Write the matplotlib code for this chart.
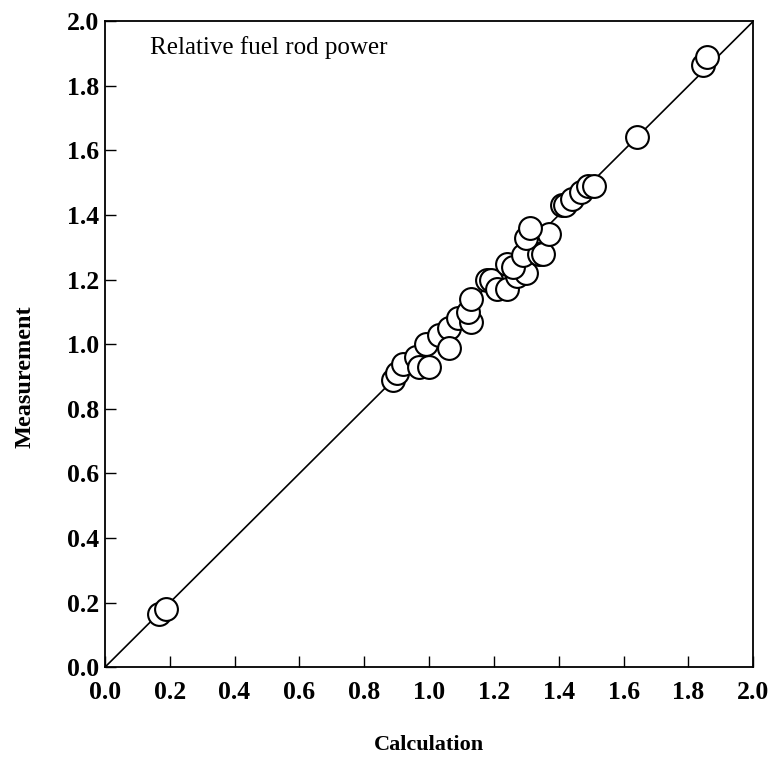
import numpy as np
import matplotlib.pyplot as plt

# Relative fuel rod power: calculated vs measured
calc = [0.167, 0.19,
        0.89, 0.90, 0.92, 0.96, 0.97, 1.00, 0.99, 1.03, 1.06, 1.06,
        1.09, 1.13, 1.12, 1.13, 1.18, 1.19, 1.21, 1.24, 1.27, 1.30,
        1.24, 1.26, 1.29, 1.34, 1.35, 1.30, 1.37, 1.31, 1.41, 1.42,
        1.44, 1.47, 1.49, 1.51,
        1.642, 1.846, 1.858]
meas = [0.164, 0.18,
        0.89, 0.91, 0.94, 0.96, 0.93, 0.93, 1.00, 1.03, 1.05, 0.99,
        1.08, 1.07, 1.10, 1.14, 1.20, 1.20, 1.17, 1.17, 1.21, 1.22,
        1.25, 1.24, 1.275, 1.28, 1.28, 1.33, 1.34, 1.36, 1.43, 1.43,
        1.45, 1.47, 1.49, 1.49,
        1.641, 1.864, 1.889]

ticks = [0.0, 0.2, 0.4, 0.6, 0.8, 1.0, 1.2, 1.4, 1.6, 1.8, 2.0]
tick_labels = ['%.1f' % t for t in ticks]

plt.rcParams['font.family'] = ['Liberation Serif', 'DejaVu Serif']

fig = plt.figure(figsize=(7.71, 7.60), dpi=100)
ax = fig.add_axes([0.136, 0.122, 0.841, 0.850])

ax.plot([0, 2], [0, 2], color='black', linewidth=1.2, zorder=1)
ax.scatter(calc, meas, s=270, facecolor='white', edgecolor='black',
           linewidth=1.5, zorder=2, clip_on=False)

ax.set_xlim(0, 2)
ax.set_ylim(0, 2)
ax.set_xticks(ticks)
ax.set_yticks(ticks)
ax.set_xticklabels(tick_labels, fontsize=18.5, fontweight='bold')
ax.set_yticklabels(tick_labels, fontsize=18.5, fontweight='bold')
ax.tick_params(direction='in', length=8, width=1, top=False, right=False)
ax.tick_params(axis='x', pad=10)
ax.tick_params(axis='y', pad=4)
for sp in ax.spines.values():
    sp.set_linewidth(1.3)

ax.set_xlabel('Calculation', fontsize=16, fontweight='bold', labelpad=22)
ax.set_ylabel('Measurement', fontsize=17.5, fontweight='bold')
ax.yaxis.set_label_coords(-0.107, 0.45)

ax.text(0.14, 1.92, 'Relative fuel rod power', fontsize=18,
        ha='left', va='center')

plt.savefig('out.png', dpi=100)
